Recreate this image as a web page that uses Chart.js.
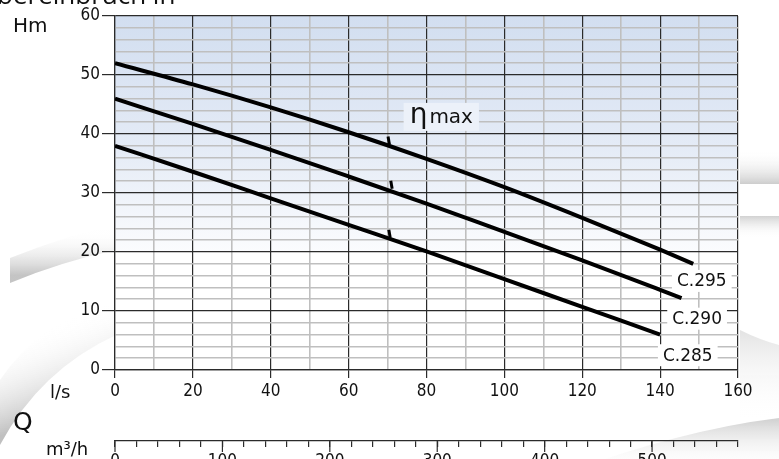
<!DOCTYPE html>
<html>
<head>
<meta charset="utf-8">
<script src="https://cdn.jsdelivr.net/npm/chart.js@4.4.0/dist/chart.umd.min.js"></script>
<style>
  html, body { margin: 0; padding: 0; background: #fff; overflow: hidden; width: 779px; height: 459px; }
  #wrap { position: relative; width: 779px; height: 475px; }
  canvas { position: absolute; left: 0; top: 0; }
  .t { position: absolute; font-family: 'DejaVu Sans', sans-serif; color: #111; line-height: 1; white-space: nowrap; }
</style>
</head>
<body>
<div id="wrap">
  <canvas id="c" width="779" height="475"></canvas>
  <div class="t" style="left:-3px; top:-19px; font-family:'Open Sans','Liberation Sans',sans-serif; font-size:26px;">bereinbruch in</div>
  <div class="t" style="left:13px; top:15px; font-size:20px;">Hm</div>
  <div class="t" style="left:50px; top:383px; font-size:18px;">l/s</div>
  <div class="t" style="left:13px; top:409px; font-size:25px;">Q</div>
  <div class="t" style="left:46px; top:440px; font-size:18px;">m³/h</div>
</div>
<script>
// ---- data ----
const qC295 = [0, 20, 40, 60, 80, 100, 120, 140, 148.5];
const hC295 = [52, 48.4, 44.5, 40.3, 35.8, 31.0, 25.8, 20.4, 18];
const qC290 = [0, 20, 40, 60, 80, 100, 120, 140, 145.5];
const hC290 = [46, 41.7, 37.3, 32.8, 28.2, 23.4, 18.6, 13.6, 12.2];
const qC285 = [0, 20, 40, 60, 80, 100, 120, 140];
const hC285 = [38, 33.6, 29.1, 24.6, 20.1, 15.4, 10.7, 6];
const qEta = [70.3, 71, 70.5];
const hEta = [38.9, 31.4, 23.1];
const curveNames = ['C.295', 'C.290', 'C.285'];
const labelQ = [150.7, 149.5, 147.1];
const labelH = [15.1, 8.7, 2.5];
const etaLabel = 'max';
const etaLabelQ = 83.8;
const etaLabelH = 42.9;
const xTicksMajor = 20, xTicksMinor = 10;
const yTicksMajor = 10, yTicksMinor = 2;
const m3hMax = 580, m3hStep = 20, m3hLabelStep = 100;

const pts = (q, h) => q.map((v, i) => ({ x: v, y: h[i] }));
const MAJOR = '#2b2b2b', MINOR = '#bfbfbf';
const tickFont = { family: "'Liberation Sans Narrow','DejaVu Sans Condensed',sans-serif", size: 17 };

const decor = {
  id: 'decor',
  beforeDraw(chart) {
    const ctx = chart.ctx, a = chart.chartArea;
    ctx.save();
    const sw = (path, x0, y0, x1, y1, c0, c1) => {
      const g = ctx.createLinearGradient(x0, y0, x1, y1);
      g.addColorStop(0, c0); g.addColorStop(1, c1);
      ctx.fillStyle = g; ctx.beginPath(); path(); ctx.fill();
    };
    sw(() => { ctx.moveTo(10, 258); ctx.quadraticCurveTo(60, 238, 116, 224); ctx.lineTo(116, 250); ctx.quadraticCurveTo(60, 262, 10, 283); ctx.closePath(); },
       60, 230, 60, 275, 'rgba(255,255,255,0)', 'rgba(190,190,190,0.9)');
    sw(() => { ctx.moveTo(0, 445); ctx.quadraticCurveTo(40, 370, 116, 335); ctx.lineTo(116, 300); ctx.quadraticCurveTo(40, 320, 0, 380); ctx.closePath(); },
       40, 330, 70, 410, 'rgba(255,255,255,0)', 'rgba(185,185,185,0.9)');
    sw(() => { ctx.rect(740, 150, 39, 34); }, 0, 150, 0, 184, 'rgba(255,255,255,0)', 'rgba(200,200,200,0.9)');
    sw(() => { ctx.rect(740, 216, 39, 22); }, 0, 216, 0, 238, 'rgba(205,205,205,0.9)', 'rgba(255,255,255,0)');
    sw(() => { ctx.moveTo(560, 475); ctx.quadraticCurveTo(680, 430, 779, 418); ctx.lineTo(779, 475); ctx.closePath(); },
       700, 420, 700, 470, 'rgba(200,200,200,0.8)', 'rgba(255,255,255,0)');
    sw(() => { ctx.moveTo(740, 330); ctx.quadraticCurveTo(760, 340, 779, 345); ctx.lineTo(779, 420); ctx.lineTo(740, 420); ctx.closePath(); },
       760, 330, 760, 420, 'rgba(215,215,215,0.7)', 'rgba(255,255,255,0)');
    const y20 = chart.scales.y.getPixelForValue(20);
    const g = ctx.createLinearGradient(0, a.top, 0, y20);
    g.addColorStop(0, '#d2def0');
    g.addColorStop(0.55, '#e4ebf6');
    g.addColorStop(1, '#fbfcfe');
    ctx.fillStyle = '#ffffff';
    ctx.fillRect(a.left, a.top, a.right - a.left, a.bottom - a.top);
    ctx.fillStyle = g;
    ctx.fillRect(a.left, a.top, a.right - a.left, y20 - a.top);
    ctx.restore();
  },
  afterDraw(chart) {
    const ctx = chart.ctx, xs = chart.scales.x, ys = chart.scales.y, x2 = chart.scales.x2;
    ctx.save();
    ctx.strokeStyle = MAJOR; ctx.lineWidth = 1.2;
    for (let v = 0; v <= m3hMax; v += m3hLabelStep) {
      const px = x2.getPixelForValue(v);
      ctx.beginPath(); ctx.moveTo(px, x2.top); ctx.lineTo(px, x2.top + 11); ctx.stroke();
    }
    ctx.textBaseline = 'middle'; ctx.textAlign = 'center';
    ctx.font = "17px 'DejaVu Sans', sans-serif";
    curveNames.forEach((n, i) => {
      const cx = xs.getPixelForValue(labelQ[i]), cy = ys.getPixelForValue(labelH[i]);
      const w = ctx.measureText(n).width;
      ctx.fillStyle = '#fff';
      ctx.fillRect(cx - w / 2 - 5, cy - 11, w + 10, 22);
      ctx.fillStyle = '#111';
      ctx.fillText(n, cx, cy + 1);
    });
    const ex = xs.getPixelForValue(etaLabelQ), ey = ys.getPixelForValue(etaLabelH);
    ctx.font = "28px 'DejaVu Sans', sans-serif";
    const wEta = ctx.measureText('η').width;
    ctx.font = "20px 'DejaVu Sans', sans-serif";
    const wMax = ctx.measureText(etaLabel).width;
    const tw = wEta + 2 + wMax;
    ctx.fillStyle = 'rgba(236,241,249,1)';
    ctx.fillRect(ex - tw / 2 - 6, ey - 14, tw + 12, 28);
    ctx.fillStyle = '#111';
    ctx.textAlign = 'left'; ctx.textBaseline = 'alphabetic';
    ctx.font = "28px 'DejaVu Sans', sans-serif";
    ctx.fillText('η', ex - tw / 2, ey + 6);
    ctx.font = "20px 'DejaVu Sans', sans-serif";
    ctx.fillText(etaLabel, ex - tw / 2 + wEta + 2, ey + 6);
    ctx.restore();
  }
};

const lineDs = (label, q, h) => ({
  type: 'line', label, data: pts(q, h),
  borderColor: '#000', borderWidth: 4, pointRadius: 0,
  cubicInterpolationMode: 'monotone', fill: false, xAxisID: 'x', yAxisID: 'y'
});

new Chart(document.getElementById('c'), {
  type: 'line',
  data: {
    datasets: [
      lineDs('C.295', qC295, hC295),
      lineDs('C.290', qC290, hC290),
      lineDs('C.285', qC285, hC285),
      { type: 'scatter', label: 'ηmax', data: pts(qEta, hEta), pointStyle: 'line', rotation: 80,
        radius: 4, borderWidth: 3, borderColor: '#000', backgroundColor: '#000', xAxisID: 'x', yAxisID: 'y' }
    ]
  },
  plugins: [decor],
  options: {
    responsive: false, animation: false, devicePixelRatio: 1,
    layout: { padding: { left: 0, top: 16, right: 41, bottom: 0 } },
    plugins: { legend: { display: false }, tooltip: { enabled: false } },
    scales: {
      x: {
        type: 'linear', position: 'bottom', min: 0, max: 160, weight: 0,
        afterFit: s => { s.height = 71; },
        grid: {
          color: c => (c.tick.value % xTicksMajor === 0 ? MAJOR : MINOR),
          lineWidth: c => (c.tick.value % xTicksMajor === 0 ? 1.2 : 1.6),
          tickColor: c => (c.tick.value % xTicksMajor === 0 ? MAJOR : 'rgba(0,0,0,0)'),
          tickLength: 8, tickWidth: 1.2
        },
        border: { display: true, color: MAJOR, width: 1.2 },
        ticks: { stepSize: xTicksMinor, autoSkip: false, maxRotation: 0, padding: 3, color: '#111', font: tickFont,
          callback: v => (v % xTicksMajor === 0 ? String(v) : '') }
      },
      x2: {
        type: 'linear', position: 'bottom', axis: 'x', min: 0, max: m3hMax, weight: 1,
        afterFit: s => { s.height = 34; },
        grid: { drawOnChartArea: false, color: MAJOR, tickColor: MAJOR, tickLength: 6, tickWidth: 1.2, lineWidth: 1.2 },
        border: { display: true, color: MAJOR, width: 1.2 },
        ticks: { stepSize: m3hStep, autoSkip: false, maxRotation: 0, padding: 4, color: '#111', font: tickFont,
          callback: v => (v % m3hLabelStep === 0 && v <= 500 ? String(v) : '') }
      },
      y: {
        type: 'linear', position: 'left', min: 0, max: 60,
        afterFit: s => { s.width = 115; },
        grid: {
          color: c => (c.tick.value % yTicksMajor === 0 ? MAJOR : MINOR),
          lineWidth: c => (c.tick.value % yTicksMajor === 0 ? 1.2 : 1.6),
          tickColor: c => (c.tick.value % yTicksMajor === 0 ? MAJOR : 'rgba(0,0,0,0)'),
          tickLength: 13, tickWidth: 1.2
        },
        border: { display: true, color: MAJOR, width: 1.2 },
        ticks: { stepSize: yTicksMinor, autoSkip: false, padding: 2, color: '#111', font: tickFont,
          callback: v => (v % yTicksMajor === 0 ? String(v) : '') }
      }
    }
  }
});
</script>
</body>
</html>
